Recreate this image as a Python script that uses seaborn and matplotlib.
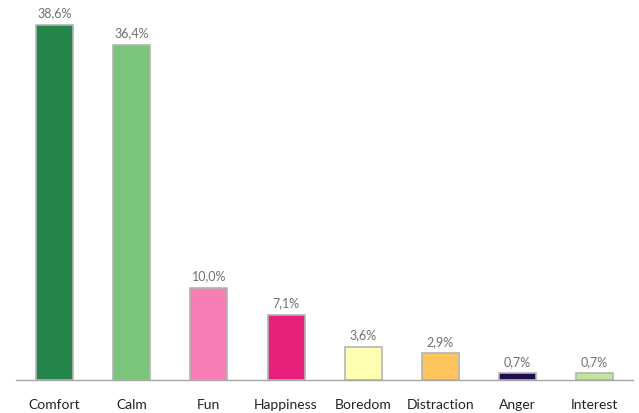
import matplotlib
matplotlib.use("Agg")
import matplotlib.pyplot as plt
import seaborn as sns
import pandas as pd

categories = ["Comfort", "Calm", "Fun", "Happiness", "Boredom", "Distraction", "Anger", "Interest"]
values = [38.6, 36.4, 10.0, 7.1, 3.6, 2.9, 0.7, 0.7]
labels = ["38,6%", "36,4%", "10,0%", "7,1%", "3,6%", "2,9%", "0,7%", "0,7%"]
colors = ["#23854a", "#7ac57b", "#f87db5", "#e6207a", "#ffffb2", "#fec55c", "#1e0c4e", "#c0e59b"]

sns.set_theme(style="white")
plt.rcParams["font.family"] = ["Lato", "DejaVu Sans"]

df = pd.DataFrame({"category": categories, "value": values})

fig = plt.figure(figsize=(6.39, 4.14), dpi=100)
ax = fig.add_axes([0.025, 0.080, 0.966, 0.920])

sns.barplot(data=df, x="category", y="value", hue="category",
            palette=dict(zip(categories, colors)), legend=False, saturation=1,
            width=0.48, edgecolor="#b4b4b4", linewidth=1.2, ax=ax)

for i, (v, t) in enumerate(zip(values, labels)):
    ax.text(i, v + 0.7, t, ha="center", va="bottom", fontsize=9, color="#707070")

ax.set_xlim(-0.5, len(categories) - 0.5)
ax.set_ylim(0, 41.4)
ax.set_xlabel("")
ax.set_ylabel("")
ax.set_yticks([])
for s in ["top", "right", "left"]:
    ax.spines[s].set_visible(False)
ax.spines["bottom"].set_color("#a6a6a6")
ax.spines["bottom"].set_linewidth(1.0)
ax.tick_params(axis="x", length=0, pad=13, labelsize=10, labelcolor="#222222")

fig.savefig("out.png", dpi=100, facecolor="white")
